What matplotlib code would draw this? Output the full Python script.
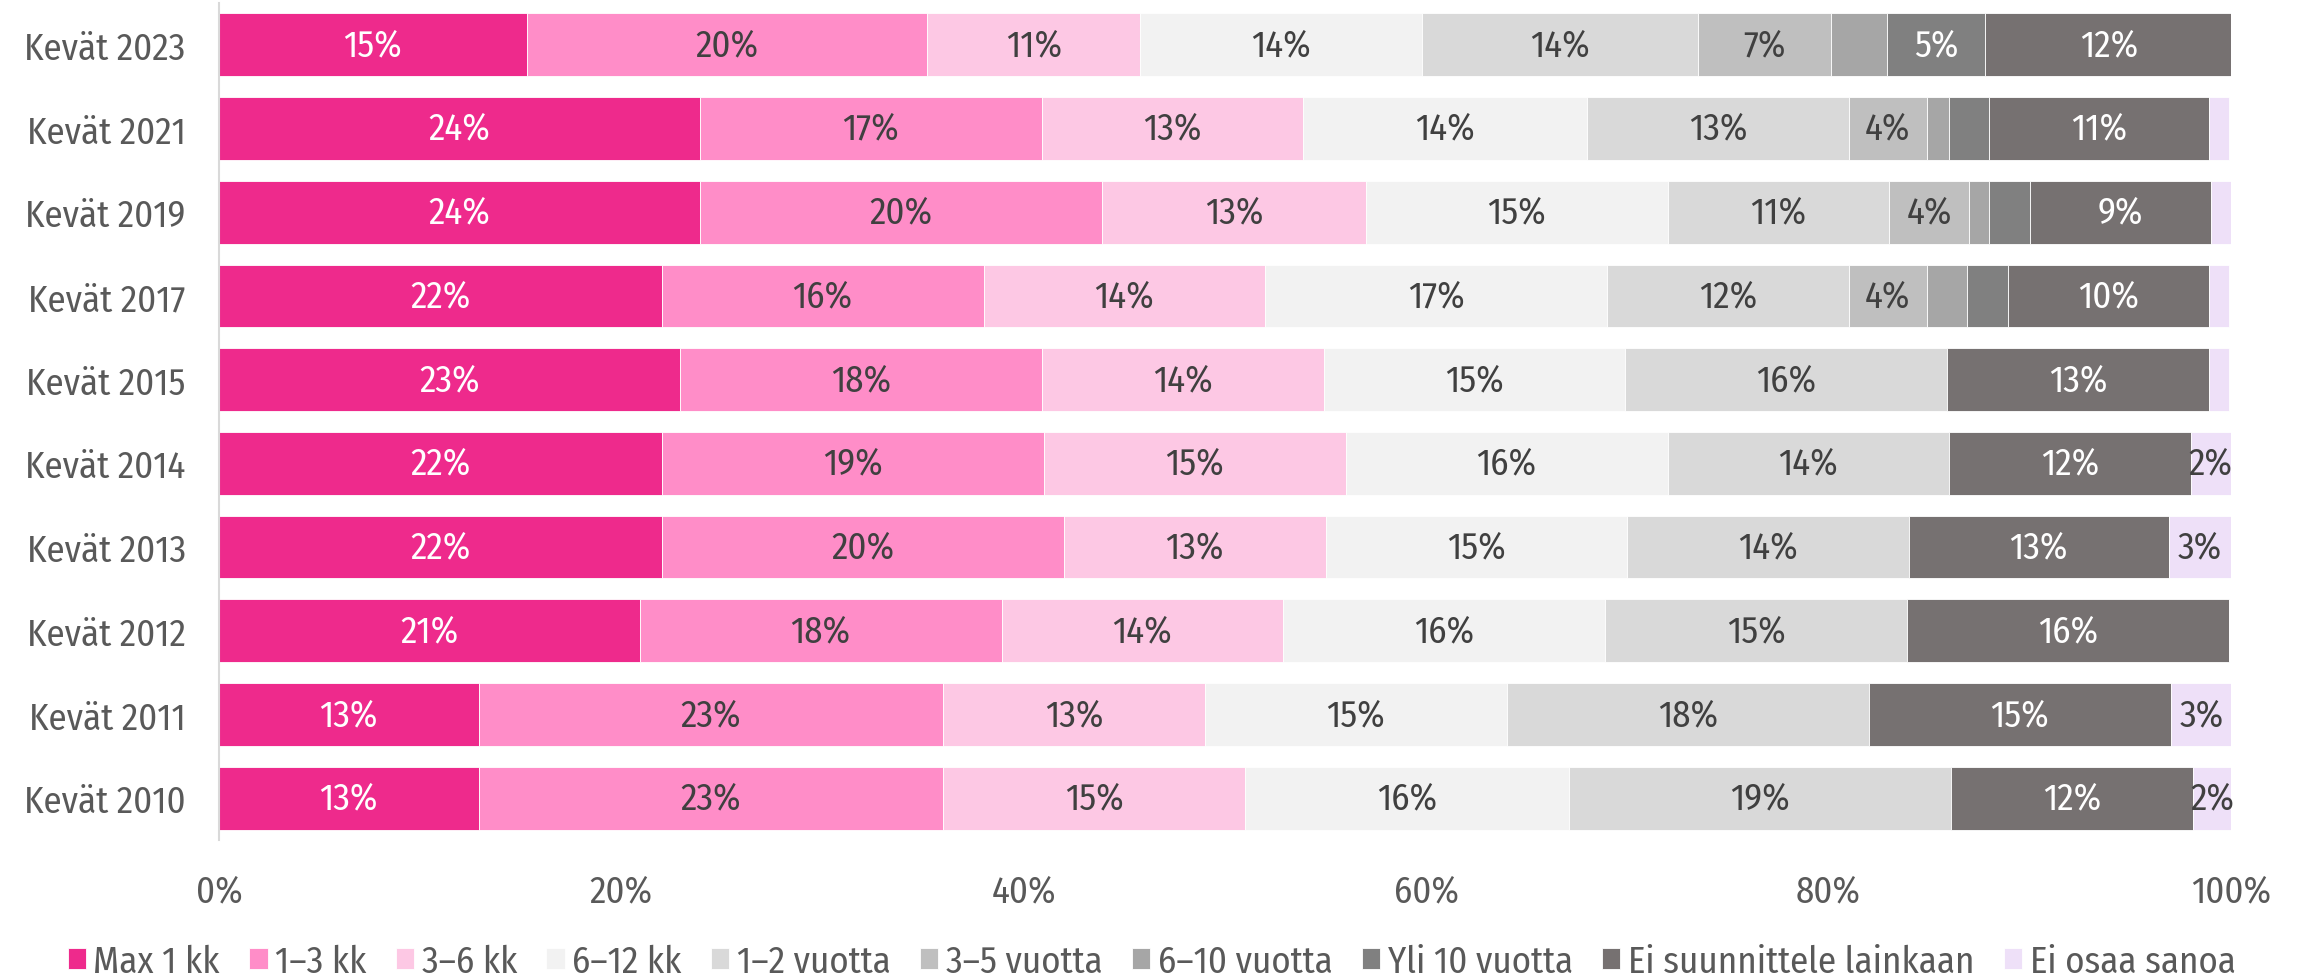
import matplotlib
matplotlib.use("Agg")
import matplotlib.pyplot as plt
from matplotlib import font_manager
import numpy as np

names = {f.name for f in font_manager.fontManager.ttflist}
fams = [f for f in ["Fira Sans Condensed", "Liberation Sans Narrow"] if f in names] + ["DejaVu Sans"]
plt.rcParams["font.family"] = fams

categories = ["Kevät 2023", "Kevät 2021", "Kevät 2019", "Kevät 2017", "Kevät 2015",
              "Kevät 2014", "Kevät 2013", "Kevät 2012", "Kevät 2011", "Kevät 2010"]

series_names = ["Max 1 kk", "1–3 kk", "3–6 kk", "6–12 kk", "1–2 vuotta", "3–5 vuotta",
                "6–10 vuotta", "Yli 10 vuotta", "Ei suunnittele lainkaan", "Ei osaa sanoa"]

max_1kk      = [15.3, 23.9, 23.9, 22.0, 22.9, 22.0, 22.0, 20.9, 12.9, 12.9]
kk_1_3       = [19.9, 17.0, 20.0, 16.0, 18.0, 19.0, 20.0, 18.0, 23.1, 23.1]
kk_3_6       = [10.6, 13.0, 13.1, 14.0, 14.0, 15.0, 13.0, 14.0, 13.0, 15.0]
kk_6_12      = [14.0, 14.1, 15.0, 17.0, 15.0, 16.0, 15.0, 16.0, 15.0, 16.1]
v_1_2        = [13.7, 13.0, 11.0, 12.0, 16.0, 14.0, 14.0, 15.0, 18.0, 19.0]
v_3_5        = [6.6, 3.9, 4.0, 3.9, 0, 0, 0, 0, 0, 0]
v_6_10       = [2.8, 1.1, 1.0, 2.0, 0, 0, 0, 0, 0, 0]
yli_10       = [4.9, 2.0, 2.0, 2.0, 0, 0, 0, 0, 0, 0]
ei_suunn     = [12.3, 10.9, 9.0, 10.0, 13.0, 12.0, 12.9, 16.0, 15.0, 12.0]
ei_osaa      = [0.0, 1.0, 1.0, 1.0, 1.0, 2.0, 3.1, 0.0, 3.1, 2.0]

series_values = [max_1kk, kk_1_3, kk_3_6, kk_6_12, v_1_2, v_3_5, v_6_10, yli_10, ei_suunn, ei_osaa]

colors = ["#EE2A8C", "#FF8DC8", "#FDC8E4", "#F2F2F2", "#D9D9D9", "#BFBFBF",
          "#A6A6A6", "#808080", "#767171", "#EEE0F8"]
label_colors = ["white", "#404040", "#404040", "#404040", "#404040", "#404040",
                "#404040", "white", "white", "#404040"]

fig = plt.figure(figsize=(23.03, 9.78), dpi=100)
ax = fig.add_axes([0.0951, 0.140, 0.8736, 0.856])

y = np.arange(len(categories))
left = np.zeros(len(categories))
fs = 26.5
for i, (name, vals) in enumerate(zip(series_names, series_values)):
    vals = np.array(vals, dtype=float)
    ax.barh(y, vals, left=left, height=0.75, color=colors[i], edgecolor="white",
            linewidth=0.6, label=name)
    for j, v in enumerate(vals):
        thr = 1.5 if i == len(series_names) - 1 else 3.5
        if v >= thr:
            ax.text(left[j] + v / 2, y[j], f"{int(round(v))}%", ha="center", va="center",
                    fontsize=fs, color=label_colors[i])
    left += vals

ax.set_ylim(len(categories) - 0.5, -0.5)
ax.set_xlim(0, 100)
ax.set_yticks(y)
ax.set_yticklabels(categories, fontsize=fs, color="#595959")
ax.set_xticks([0, 20, 40, 60, 80, 100])
ax.set_xticklabels([f"{t}%" for t in [0, 20, 40, 60, 80, 100]], fontsize=fs, color="#595959")
ax.tick_params(axis="y", length=0, pad=24)
ax.tick_params(axis="x", length=0, pad=24)
for s in ["top", "right", "bottom"]:
    ax.spines[s].set_visible(False)
ax.spines["left"].set_color("#D9D9D9")
ax.spines["left"].set_linewidth(1.5)

handles, labels = ax.get_legend_handles_labels()
fig.legend(handles, labels, loc="center", bbox_to_anchor=(0.5, 0.016), ncol=10,
           frameon=False, fontsize=fs, labelcolor="#595959", handlelength=0.5,
           handleheight=0.5, handletextpad=0.2, columnspacing=0.8)

fig.savefig("out.png", dpi=100)
